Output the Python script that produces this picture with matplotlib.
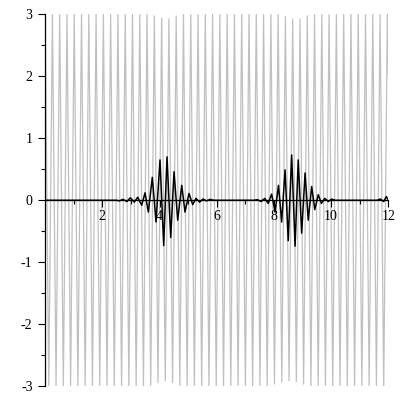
import matplotlib
matplotlib.use("Agg")
import matplotlib.pyplot as plt
from matplotlib.ticker import MultipleLocator, FixedLocator

# Grey carrier: turning points (x, y)
grey_x = [0.000, 0.127, 0.255, 0.382, 0.509, 0.637, 0.764, 0.891, 1.018, 1.146,
          1.273, 1.400, 1.528, 1.655, 1.782, 1.910, 2.037, 2.164, 2.291, 2.419,
          2.546, 2.673, 2.801, 2.928, 3.055, 3.183, 3.310, 3.437, 3.564, 3.692,
          3.819, 3.946, 4.074, 4.201, 4.328, 4.456, 4.583, 4.710, 4.837, 4.965,
          5.092, 5.219, 5.347, 5.474, 5.601, 5.729, 5.856, 5.983, 6.110, 6.238,
          6.365, 6.492, 6.620, 6.747, 6.874, 7.002, 7.129, 7.256, 7.383, 7.511,
          7.638, 7.765, 7.893, 8.020, 8.147, 8.275, 8.402, 8.529, 8.656, 8.784,
          8.911, 9.038, 9.166, 9.293, 9.420, 9.548, 9.675, 9.802, 9.929, 10.057,
          10.184, 10.311, 10.439, 10.566, 10.693, 10.821, 10.948, 11.075, 11.202, 11.330,
          11.457, 11.584, 11.712, 11.839, 11.966, 12.000]
grey_y = [3.00, -3.00, 3.00, -3.00, 3.00, -3.00, 3.00, -3.00, 3.00, -3.00,
          3.00, -3.00, 3.00, -3.00, 3.00, -3.00, 3.00, -3.00, 3.00, -3.00,
          3.00, -3.00, 3.00, -3.00, 3.00, -3.00, 3.00, -3.00, 3.00, -3.00,
          2.97, -2.94, 2.93, -2.91, 2.92, -2.94, 2.97, -3.00, 3.00, -3.00,
          3.00, -3.00, 3.00, -3.00, 3.00, -3.00, 3.00, -3.00, 3.00, -3.00,
          3.00, -3.00, 3.00, -3.00, 3.00, -3.00, 3.00, -3.00, 3.00, -3.00,
          3.00, -3.00, 3.00, -2.96, 3.00, -2.93, 2.96, -2.91, 2.92, -2.92,
          2.92, -2.96, 2.97, -3.00, 3.00, -3.00, 3.00, -3.00, 3.00, -3.00,
          3.00, -3.00, 3.00, -3.00, 3.00, -3.00, 3.00, -3.00, 3.00, -3.00,
          3.00, -3.00, 3.00, -3.00, 3.00, 2.00]

# Black signal (two wave packets): turning points
sig_x = [0.00, 2.50, 2.60, 2.72, 2.86, 2.98, 3.12, 3.237, 3.377, 3.493,
         3.609, 3.748, 3.878, 4.017, 4.146, 4.262, 4.391, 4.507, 4.636, 4.776,
         4.892, 5.031, 5.160, 5.276, 5.40, 5.52, 5.64, 5.77, 5.90, 7.30,
         7.42, 7.55, 7.68, 7.80, 7.92, 8.04, 8.16, 8.27, 8.39, 8.50,
         8.62, 8.74, 8.85, 8.97, 9.09, 9.20, 9.32, 9.43, 9.55, 9.66,
         9.78, 9.90, 10.02, 10.14, 11.60, 11.72, 11.84, 11.93, 12.00]
sig_y = [0.00, 0.00, -0.01, 0.015, -0.02, 0.04, -0.03, 0.05, -0.08, 0.12,
         -0.19, 0.37, -0.35, 0.65, -0.73, 0.70, -0.60, 0.46, -0.32, 0.24,
         -0.19, 0.11, -0.07, 0.03, -0.03, 0.02, -0.01, 0.015, 0.00, 0.00,
         0.01, -0.02, 0.03, -0.05, 0.10, -0.19, 0.24, -0.35, 0.49, -0.65,
         0.73, -0.74, 0.65, -0.53, 0.44, -0.32, 0.22, -0.15, 0.09, -0.05,
         0.03, -0.02, 0.02, 0.00, 0.00, 0.02, -0.02, 0.06, 0.00]

x_ticks = [2, 4, 6, 8, 10, 12]
x_minor = [1, 3, 5, 7, 9, 11]
y_ticks = [-3, -2, -1, 0, 1, 2, 3]

plt.rcParams['font.family'] = ['Liberation Serif', 'DejaVu Serif']

fig = plt.figure(figsize=(4, 4), dpi=100)
ax = fig.add_axes([0.1128, 0.0338, 0.858, 0.931])

ax.plot(grey_x, grey_y, color='#c0c0c0', lw=0.9, zorder=1)
ax.plot(sig_x, sig_y, color='black', lw=1.1, zorder=3, solid_joinstyle='round')

ax.set_xlim(0, 12)
ax.set_ylim(-3, 3)

for s in ['top', 'right']:
    ax.spines[s].set_visible(False)
ax.spines['bottom'].set_position(('data', 0))
ax.spines['left'].set_position(('data', 0))
ax.spines['bottom'].set_zorder(2)
ax.spines['left'].set_zorder(2)
for s in ['bottom', 'left']:
    ax.spines[s].set_linewidth(0.9)

ax.xaxis.set_major_locator(FixedLocator(x_ticks))
ax.xaxis.set_minor_locator(FixedLocator(x_minor))
ax.yaxis.set_major_locator(FixedLocator(y_ticks))
ax.yaxis.set_minor_locator(MultipleLocator(0.5))
ax.set_xticklabels([str(v) for v in x_ticks])
ax.set_yticklabels([str(v) for v in y_ticks])

ax.tick_params(axis='x', which='major', direction='out', length=5, width=0.8, pad=2, labelsize=10)
ax.tick_params(axis='x', which='minor', direction='out', length=3, width=0.8)
ax.tick_params(axis='y', which='major', direction='out', length=5, width=0.8, pad=4, labelsize=10)
ax.tick_params(axis='y', which='minor', direction='out', length=3, width=0.8)
ax.patch.set_alpha(0)

fig.savefig('out.png', dpi=100)
